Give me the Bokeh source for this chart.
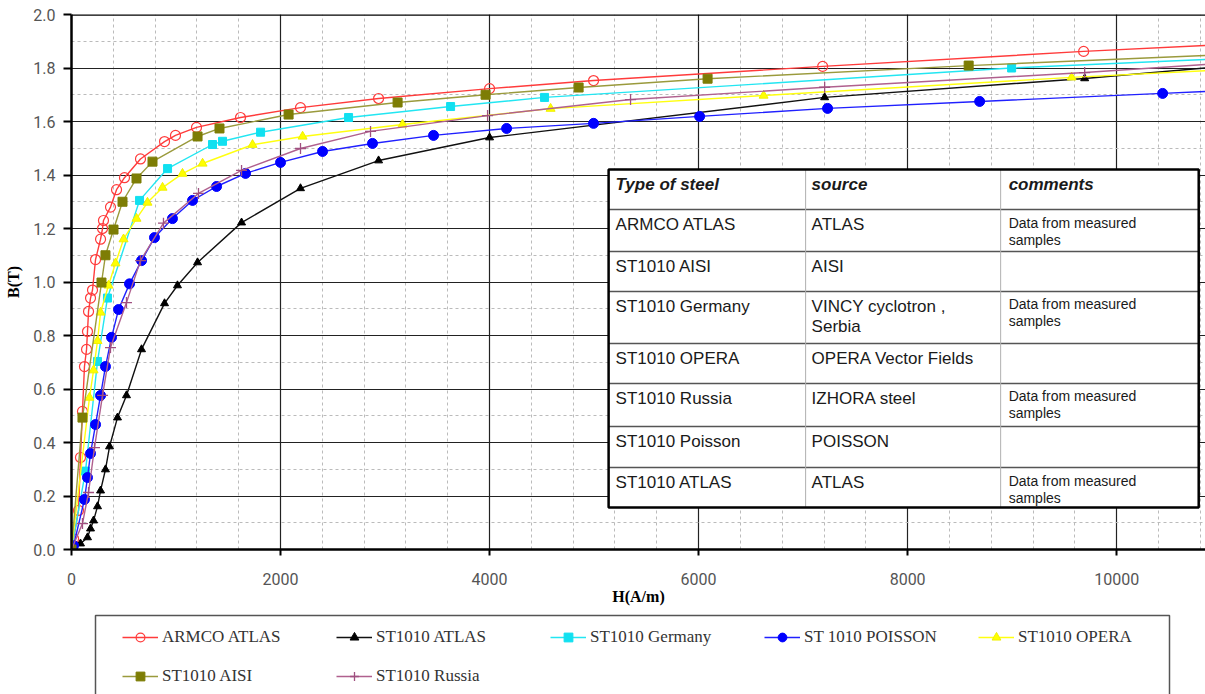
from bokeh.plotting import figure
from bokeh.layouts import column
from bokeh.models import (Range1d, SingleIntervalTicker, Legend, LegendItem, Span,
                          NumeralTickFormatter)
from bokeh.embed import file_html
from bokeh.resources import INLINE
from bokeh.core.properties import value

# ---------------- data ----------------
armco_H = [0, 20, 67, 86, 105, 124, 144, 153, 163, 182, 201, 230, 278, 297, 306, 373, 431, 507,
           660, 890, 995, 1196, 1617, 2191, 2938, 4000, 4995, 7187, 9684]
armco_B = [0.0, 0.04, 0.146, 0.344, 0.516, 0.684, 0.748, 0.815, 0.89, 0.94, 0.97, 1.084, 1.16, 1.2,
           1.23, 1.28, 1.345, 1.39, 1.46, 1.525, 1.548, 1.578, 1.615, 1.652, 1.686, 1.723, 1.753,
           1.806, 1.862]

aisi_H = [0, 105, 287, 325, 402, 488, 622, 775, 1206, 1416, 2077, 3120, 3962, 4852, 6086, 8584]
aisi_B = [0.0, 0.493, 0.998, 1.10, 1.196, 1.30, 1.387, 1.45, 1.544, 1.574, 1.626, 1.671, 1.70,
          1.727, 1.76, 1.809]

germany_H = [0, 134, 249, 344, 651, 919, 1349, 1445, 1809, 2651, 3627, 4526, 8995]
germany_B = [0.0, 0.293, 0.703, 0.94, 1.305, 1.424, 1.514, 1.526, 1.56, 1.615, 1.656, 1.69, 1.80]

opera_H = [0, 172, 211, 249, 278, 354, 421, 498, 622, 727, 871, 1062, 1254, 1732, 2211, 3167,
           4584, 6622, 9569]
opera_B = [0.0, 0.568, 0.67, 0.78, 0.886, 0.987, 1.07, 1.16, 1.237, 1.297, 1.353, 1.405, 1.443,
           1.513, 1.544, 1.589, 1.648, 1.697, 1.765]

poisson_H = [0, 20, 124, 153, 182, 230, 278, 325, 383, 450, 555, 670, 794, 966, 1158, 1388, 1665,
             2000, 2402, 2880, 3464, 4163, 4995, 6010, 7234, 8689, 10440]
poisson_B = [0.0, 0.015, 0.187, 0.269, 0.359, 0.467, 0.576, 0.684, 0.793, 0.897, 0.993, 1.08,
             1.166, 1.237, 1.305, 1.357, 1.406, 1.447, 1.488, 1.518, 1.548, 1.574, 1.593, 1.619,
             1.649, 1.675, 1.705]

russia_H = [0, 105, 163, 220, 297, 373, 526, 660, 880, 1215, 1627, 2191, 2861, 3981, 5349, 7206,
            9694]
russia_B = [0.0, 0.097, 0.213, 0.381, 0.576, 0.755, 0.923, 1.08, 1.22, 1.331, 1.417, 1.499, 1.563,
            1.622, 1.682, 1.728, 1.783]

atlas_H = [0, 86, 153, 182, 211, 249, 278, 325, 364, 440, 526, 670, 890, 1014, 1206, 1627, 2191,
           2938, 4000, 7206, 9694]
atlas_B = [0.0, 0.022, 0.045, 0.078, 0.108, 0.161, 0.22, 0.299, 0.385, 0.493, 0.576, 0.748, 0.92,
           0.987, 1.073, 1.222, 1.35, 1.454, 1.54, 1.69, 1.761]

# where each line leaves the visible plot on the right (H, B)
edge_H = 10850
edge_B = {"ARMCO ATLAS": 1.884, "ST1010 ATLAS": 1.80, "ST1010 Germany": 1.832,
          "ST 1010 POISSON": 1.712, "ST1010 OPERA": 1.79, "ST1010 AISI": 1.847,
          "ST1010 Russia": 1.813}

x_ticks_interval = 2000
y_ticks_interval = 0.2

table_header = ["Type of steel", "source", "comments"]
table_steel = ["ARMCO ATLAS", "ST1010 AISI", "ST1010 Germany", "ST1010 OPERA", "ST1010 Russia",
               "ST1010 Poisson", "ST1010 ATLAS"]
table_source = ["ATLAS", "AISI", "VINCY cyclotron ,\nSerbia", "OPERA Vector Fields",
                "IZHORA steel", "POISSON", "ATLAS"]
table_comment = ["Data from measured\nsamples", "", "Data from measured\nsamples", "",
                 "Data from measured\nsamples", "", "Data from measured\nsamples"]

# ---------------- main figure ----------------
X_END = 10850
p = figure(width=1205, height=611, output_backend="svg", toolbar_location=None,
           x_range=Range1d(0, X_END), y_range=Range1d(0, 2.0),
           min_border_left=71, min_border_right=0, min_border_top=14, min_border_bottom=62)
p.outline_line_color = None
p.background_fill_color = "white"

p.xaxis.ticker = SingleIntervalTicker(interval=x_ticks_interval, num_minor_ticks=5)
p.yaxis.ticker = SingleIntervalTicker(interval=y_ticks_interval, num_minor_ticks=2)
p.yaxis.formatter = NumeralTickFormatter(format="0.0")

for ax in (p.xaxis[0], p.yaxis[0]):
    ax.axis_line_width = 2.5
    ax.axis_line_color = "black"
    ax.major_tick_line_width = 2
    ax.major_tick_line_color = "black"
    ax.major_tick_in = 0
    ax.minor_tick_in = 0
    ax.minor_tick_out = 0
    ax.major_label_text_font = "Roboto"
    ax.major_label_text_font_size = "16px"
    ax.major_label_text_color = "#555555"
    ax.axis_label_text_font = "Liberation Serif"
    ax.axis_label_text_font_size = "16px"
    ax.axis_label_text_font_style = "bold"
    ax.axis_label_text_color = "black"

p.yaxis.axis_label = "B(T)"
p.yaxis.major_tick_out = 8
p.yaxis.major_label_standoff = 8
p.yaxis.axis_label_standoff = 8
p.xaxis.axis_label = "H(A/m)"
p.xaxis.major_tick_out = 6
p.xaxis.major_label_standoff = 17
p.xaxis.axis_label_standoff = 0

for g in (p.xgrid[0], p.ygrid[0]):
    g.grid_line_color = "#222222"
    g.grid_line_width = 1.2
    g.minor_grid_line_color = "#bbbbbb"
    g.minor_grid_line_dash = "3 3"
    g.minor_grid_line_width = 1

p.add_layout(Span(location=2.0, dimension="width", line_color="black", line_width=2.5))

series = [
    ("ARMCO ATLAS", armco_H, armco_B, "#ff3b3b", "circle", dict(size=10, fill_color=None, line_color="#ff3b3b", line_width=1.2)),
    ("ST1010 ATLAS", atlas_H, atlas_B, "#111111", "triangle", dict(size=8, fill_color="black", line_color="black")),
    ("ST1010 Germany", germany_H, germany_B, "#22e6f2", "square", dict(size=8, fill_color="#11e0f0", line_color="#11e0f0")),
    ("ST 1010 POISSON", poisson_H, poisson_B, "#2020ff", "circle", dict(size=10, fill_color="#0000ff", line_color="#0000ff")),
    ("ST1010 OPERA", opera_H, opera_B, "#ffff10", "triangle", dict(size=9, fill_color="#ffff00", line_color="#f0f000")),
    ("ST1010 AISI", aisi_H, aisi_B, "#9a9a3c", "square", dict(size=9, fill_color="#7d7d05", line_color="#7d7d05")),
    ("ST1010 Russia", russia_H, russia_B, "#b0608e", "cross", dict(size=11, fill_color=None, line_color="#a05080", line_width=1.3)),
]

for name, hs, bs, col, marker, mk in series:
    p.line(list(hs) + [edge_H], list(bs) + [edge_B[name]], line_color=col, line_width=1.4)
    p.scatter(hs, bs, marker=marker, **mk)

# ---------------- table ----------------
PX_H = X_END / 1134.0
PX_B = 2.0 / 535.0
cols = [5139, 7024, 8890, 10785]
rows = [1.4206, 1.271, 1.114, 0.9645, 0.770, 0.6206, 0.4598, 0.3065, 0.157]

p.quad(left=[cols[0]], right=[cols[-1]], bottom=[rows[-1]], top=[rows[0]],
       fill_color="white", line_color=None)
p.segment(x0=[cols[0]] * 7, y0=rows[1:-1], x1=[cols[-1]] * 7, y1=rows[1:-1],
          line_color="#555555", line_width=1.5)
p.segment(x0=cols[1:3], y0=[rows[0]] * 2, x1=cols[1:3], y1=[rows[-1]] * 2,
          line_color="#b0b0b0", line_width=1)
p.quad(left=[cols[0]], right=[cols[-1]], bottom=[rows[-1]], top=[rows[0]],
       fill_color=None, line_color="black", line_width=2.5)

tx = [cols[0] + 7 * PX_H, cols[1] + 6 * PX_H, cols[2] + 8 * PX_H]
p.text(x=tx, y=[rows[0] - 15 * PX_B] * 3, text=table_header, text_font=value("Liberation Sans"),
       text_font_size="17px", text_font_style="bold italic", text_baseline="middle",
       text_color="#1a1a1a")

big_x, big_y, big_t = [], [], []
small_x, small_y, small_t = [], [], []
for i in range(7):
    top = rows[i + 1]
    big_x.append(tx[0]); big_y.append(top - 15 * PX_B); big_t.append(table_steel[i])
    for j, line in enumerate(table_source[i].split("\n")):
        big_x.append(tx[1]); big_y.append(top - (15 + 20 * j) * PX_B); big_t.append(line)
    if table_comment[i]:
        for j, line in enumerate(table_comment[i].split("\n")):
            small_x.append(tx[2]); small_y.append(top - (13 + 17 * j) * PX_B); small_t.append(line)

p.text(x=big_x, y=big_y, text=big_t, text_font=value("Liberation Sans"), text_font_size="17px",
       text_baseline="middle", text_color="#1a1a1a")
p.text(x=small_x, y=small_y, text=small_t, text_font=value("Liberation Sans"),
       text_font_size="14px", text_baseline="middle", text_color="#1a1a1a")

# ---------------- legend strip (second figure; ranges = page pixels, series glyphs fall outside) ----------------
q = figure(width=1205, height=83, output_backend="svg", toolbar_location=None,
           x_range=Range1d(71, 1205), y_range=Range1d(694, 611),
           x_axis_location=None, y_axis_location=None,
           min_border_left=0, min_border_right=0, min_border_top=0, min_border_bottom=0)
q.outline_line_color = None
q.xgrid.visible = False
q.ygrid.visible = False

# legend frame box
q.quad(left=[95], right=[1169], top=[615], bottom=[700], fill_color="white",
       line_color="#555555", line_width=1.5)

items = []
for name, hs, bs, col, marker, mk in series:
    lr = q.line(hs, bs, line_color=col, line_width=1.4)
    mk2 = dict(mk)
    mk2["size"] = mk["size"] * 0.8
    sr = q.scatter(hs, bs, marker=marker, **mk2)
    items.append(LegendItem(label=name, renderers=[lr, sr]))

legend = Legend(items=items, orientation="horizontal", ncols=5, location=(51, 7), margin=0,
                padding=10, spacing=17, glyph_width=36, glyph_height=22, label_height=22,
                label_width=157, label_standoff=4, label_text_font="Liberation Serif",
                label_text_font_size="17px", label_text_color="#333333",
                border_line_color=None, background_fill_alpha=0)
q.add_layout(legend)

layout = column(p, q, spacing=0)
open("out.html", "w").write(file_html(layout, INLINE))
